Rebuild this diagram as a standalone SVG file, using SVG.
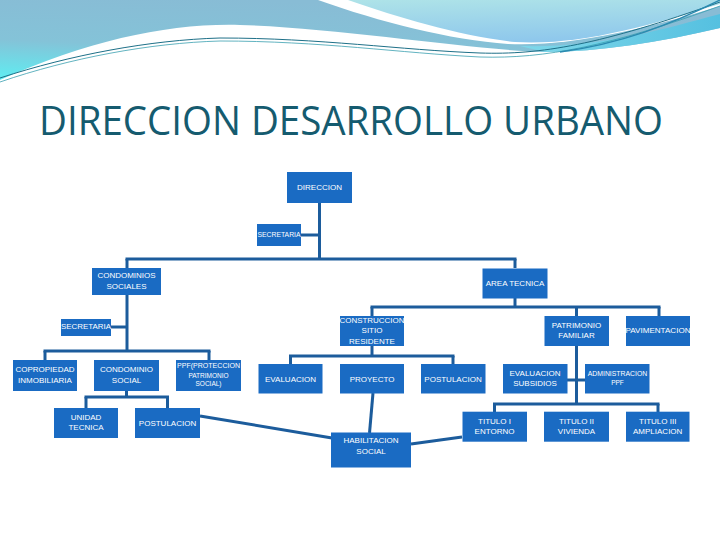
<svg xmlns="http://www.w3.org/2000/svg" width="720" height="540" viewBox="0 0 720 540">
<defs>
<linearGradient id="gL" x1="0.35" y1="0" x2="0" y2="1">
<stop offset="0" stop-color="#88bcd5"/>
<stop offset="0.55" stop-color="#84c3d8"/>
<stop offset="1" stop-color="#5eeef2"/>
</linearGradient>
<linearGradient id="gR" x1="0" y1="0" x2="0.2" y2="1">
<stop offset="0" stop-color="#aee3e8"/>
<stop offset="1" stop-color="#8fc8ec"/>
</linearGradient>
<linearGradient id="gC" x1="0" y1="0" x2="1" y2="0">
<stop offset="0" stop-color="#7fd8ea"/>
<stop offset="1" stop-color="#55c0e0"/>
</linearGradient>
<style>
.box{fill:#1a6bc3}
.t{fill:#ffffff;font-family:"Liberation Sans",Arial,sans-serif;font-size:8px;text-anchor:middle}
.s{font-size:6.5px}
.c path{fill:none;stroke:#1c5c9c;stroke-width:3}
</style>
</defs>
<rect width="720" height="540" fill="#ffffff"/>
<g id="banner">
<path d="M0,0 H720 V28 C660,42 600,52 545,52 C470,50 340,28 240,25 C170,23 90,40 0,80 Z" fill="url(#gL)"/>
<path d="M520,46 C600,48 660,30 720,14 V28 C660,42 600,52 545,52 Z" fill="url(#gC)"/>
<path d="M318,0 C380,22 450,40 508,44 C570,47 650,28 720,6 V0 Z" fill="#ffffff"/>
<path d="M348,0 C400,18 460,36 515,42 C580,46 650,25 720,4 V0 Z" fill="url(#gR)"/>
<path d="M0,78 C70,55 150,40 220,38 C320,38 400,50 480,53 C540,55 600,45 720,2" fill="none" stroke="#1e7088" stroke-width="1"/>
<path d="M0,82 C70,58 150,43 220,41 C320,41 400,53 480,57 C545,59 610,46 720,6" fill="none" stroke="#3aa0b0" stroke-width="0.8"/>
<path d="M560,52 C620,44 670,25 720,0" fill="none" stroke="#2a8ab0" stroke-width="1.5"/>
</g>
<text x="39" y="135" font-family="'Open Sans','Liberation Sans',sans-serif" font-size="40" fill="#155b6f" textLength="624" lengthAdjust="spacingAndGlyphs">DIRECCION DESARROLLO URBANO</text>
<g class="c" id="connectors">
<path d="M319.5,203 V259"/>
<path d="M301,235 H319.5"/>
<path d="M125.5,259 H516.5"/>
<path d="M127,259 V268"/>
<path d="M515,259 V268"/>
<path d="M127,295 V351"/>
<path d="M111,327 H127"/>
<path d="M43.5,351 H210.5"/>
<path d="M45,351 V360"/>
<path d="M209,351 V360"/>
<path d="M126.5,391 V397"/>
<path d="M84.5,397 H169"/>
<path d="M86,397 V408"/>
<path d="M167.5,397 V408"/>
<path d="M515,298 V307"/>
<path d="M370.5,307 H660.5"/>
<path d="M372,307 V316"/>
<path d="M576.5,307 V316"/>
<path d="M659,307 V316"/>
<path d="M372,346 V356"/>
<path d="M289,356 H454.5"/>
<path d="M290.5,356 V364"/>
<path d="M453,356 V364"/>
<path d="M576.5,346 V404"/>
<path d="M567,380 H586"/>
<path d="M493,404 H659.5"/>
<path d="M494.5,404 V412"/>
<path d="M658,404 V412"/>
<path d="M200,416 L332,438"/>
<path d="M373,393 L369.5,433"/>
<path d="M411,444 L462,437"/>
</g>
<g id="n-direccion"><rect class="box" x="287" y="172" width="65" height="31"/><text class="t" x="319.5" y="190">DIRECCION</text></g>
<g id="n-secretaria1"><rect class="box" x="257" y="224" width="44" height="22"/><text class="t" x="279" y="237.3" font-size="7" textLength="43" lengthAdjust="spacingAndGlyphs">SECRETARIA</text></g>
<g id="n-condominios"><rect class="box" x="92" y="268" width="69" height="27"/><text class="t" x="126.5" y="278.3">CONDOMINIOS</text><text class="t" x="126.5" y="288.7">SOCIALES</text></g>
<g id="n-areatecnica"><rect class="box" x="482.5" y="268.5" width="65" height="30"/><text class="t" x="515" y="285.7">AREA TECNICA</text></g>
<g id="n-secretaria2"><rect class="box" x="61" y="319" width="50" height="17"/><text class="t" x="86" y="329.3" textLength="50" lengthAdjust="spacingAndGlyphs">SECRETARIA</text></g>
<g id="n-copropiedad"><rect class="box" x="13" y="360" width="64" height="31"/><text class="t" x="45" y="372.3">COPROPIEDAD</text><text class="t" x="45" y="382.7">INMOBILIARIA</text></g>
<g id="n-condominio"><rect class="box" x="94" y="360" width="65" height="31"/><text class="t" x="126.5" y="372.3">CONDOMINIO</text><text class="t" x="126.5" y="382.7">SOCIAL</text></g>
<g id="n-ppf"><rect class="box" x="176" y="360" width="65" height="31"/><text class="t s" x="208.5" y="368.3" textLength="63" lengthAdjust="spacingAndGlyphs">PPF(PROTECCION</text><text class="t s" x="208.5" y="377.7">PATRIMONIO</text><text class="t s" x="208.5" y="386">SOCIAL)</text></g>
<g id="n-unidad"><rect class="box" x="54" y="408" width="64" height="30"/><text class="t" x="86" y="420">UNIDAD</text><text class="t" x="86" y="430.3">TECNICA</text></g>
<g id="n-postulacion1"><rect class="box" x="135" y="408" width="65" height="30"/><text class="t" x="167.5" y="425.7">POSTULACION</text></g>
<g id="n-construccion"><rect class="box" x="340" y="316" width="64" height="30"/><text class="t" x="372" y="323" textLength="65" lengthAdjust="spacingAndGlyphs">CONSTRUCCION</text><text class="t" x="372" y="333.3">SITIO</text><text class="t" x="372" y="343.7">RESIDENTE</text></g>
<g id="n-evaluacion"><rect class="box" x="258.5" y="364" width="64" height="29.5"/><text class="t" x="290.5" y="381.7">EVALUACION</text></g>
<g id="n-proyecto"><rect class="box" x="340" y="364" width="64" height="29.5"/><text class="t" x="372" y="381.7">PROYECTO</text></g>
<g id="n-postulacion2"><rect class="box" x="421" y="364" width="64.5" height="29.5"/><text class="t" x="453" y="381.7">POSTULACION</text></g>
<g id="n-habilitacion"><rect class="box" x="331" y="432.5" width="80" height="35"/><text class="t" x="371" y="443.3">HABILITACION</text><text class="t" x="371" y="453.7">SOCIAL</text></g>
<g id="n-patrimonio"><rect class="box" x="544.5" y="316" width="64.5" height="30"/><text class="t" x="576.5" y="328.3">PATRIMONIO</text><text class="t" x="576.5" y="338.3">FAMILIAR</text></g>
<g id="n-pavimentacion"><rect class="box" x="626" y="316" width="64" height="30"/><text class="t" x="658" y="333.3" textLength="65" lengthAdjust="spacingAndGlyphs">PAVIMENTACION</text></g>
<g id="n-evalsub"><rect class="box" x="503" y="364" width="64.5" height="29.5"/><text class="t" x="535" y="376">EVALUACION</text><text class="t" x="535" y="386">SUBSIDIOS</text></g>
<g id="n-admin"><rect class="box" x="585" y="364" width="64.5" height="29.5"/><text class="t s" x="617.5" y="375.7" textLength="59.5" lengthAdjust="spacingAndGlyphs">ADMINISTRACION</text><text class="t s" x="617.5" y="385.3">PPF</text></g>
<g id="n-titulo1"><rect class="box" x="462.5" y="411.7" width="64.5" height="30"/><text class="t" x="494.5" y="424">TITULO I</text><text class="t" x="494.5" y="434">ENTORNO</text></g>
<g id="n-titulo2"><rect class="box" x="544" y="411.7" width="65" height="30"/><text class="t" x="576.5" y="424">TITULO II</text><text class="t" x="576.5" y="434">VIVIENDA</text></g>
<g id="n-titulo3"><rect class="box" x="626" y="411.7" width="63.5" height="30"/><text class="t" x="657.7" y="424">TITULO III</text><text class="t" x="657.7" y="434">AMPLIACION</text></g>
</svg>
